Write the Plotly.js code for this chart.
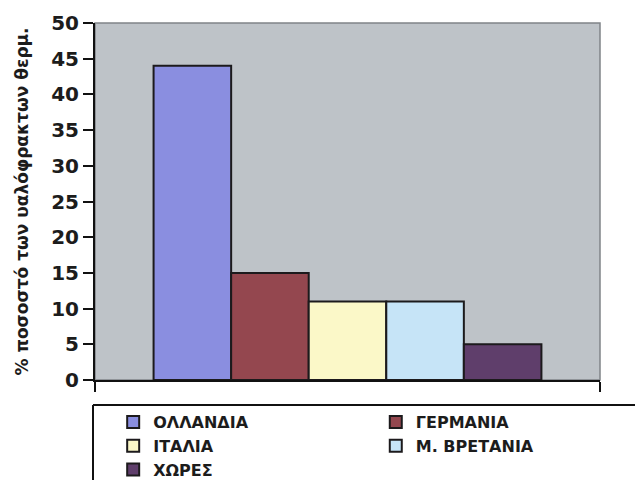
<!DOCTYPE html>
<html>
<head>
<meta charset="utf-8">
<script src="https://cdn.plot.ly/plotly-3.0.1.min.js"></script>
<style>html,body{margin:0;padding:0;background:#fff;}#chart{width:635px;height:480px;}</style>
</head>
<body>
<div id="chart"></div>
<script>
// ---- data ----
var category = ['ποσοστό'];
var seriesNames = ['ΟΛΛΑΝΔΙΑ', 'ΓΕΡΜΑΝΙΑ', 'ΙΤΑΛΙΑ', 'Μ. ΒΡΕΤΑΝΙΑ', 'ΧΩΡΕΣ'];
var seriesValues = [44, 15, 11, 11, 5];
var yTickValues = [0, 5, 10, 15, 20, 25, 30, 35, 40, 45, 50];
var yTitle = '% ποσοστό των υαλόφρακτων θερμ.';

// ---- styles ----
var colors = ['#8a8ee0', '#94474f', '#fbf8c8', '#c6e4f7', '#5f3e6b'];
var boldFont = 'DejaVu Sans, Arial, sans-serif';

var traces = seriesNames.map(function (name, i) {
  return {
    type: 'bar',
    name: name,
    x: category,
    y: [seriesValues[i]],
    legend: (i % 2 === 0) ? 'legend' : 'legend2',
    marker: { color: colors[i], line: { color: '#1c1a1c', width: 2 } },
    hoverinfo: 'name+y'
  };
});

var legendStyle = {
  orientation: 'v',
  yanchor: 'top',
  xanchor: 'left',
  y: -0.07,
  bgcolor: 'rgba(0,0,0,0)',
  borderwidth: 0,
  font: { family: boldFont, size: 16, color: '#1c1c1c', weight: 'bold' },
  traceorder: 'normal'
};

var layout = {
  width: 635,
  height: 480,
  margin: { l: 95, r: 35, t: 23, b: 100, autoexpand: false },
  paper_bgcolor: '#ffffff',
  plot_bgcolor: '#bec3c8',
  barmode: 'group',
  bargap: 0.232,
  bargroupgap: 0,
  showlegend: true,
  legend: Object.assign({}, legendStyle, { x: 0.036 }),
  legend2: Object.assign({}, legendStyle, { x: 0.556 }),
  xaxis: {
    type: 'category',
    showticklabels: false,
    showgrid: false,
    zeroline: false,
    showline: true,
    linecolor: '#111',
    linewidth: 2,
    ticks: 'outside',
    tickson: 'boundaries',
    ticklen: 10,
    tickwidth: 2,
    tickcolor: '#111',
    fixedrange: true
  },
  yaxis: {
    range: [0, 50],
    tickvals: yTickValues,
    showgrid: false,
    zeroline: false,
    showline: true,
    linecolor: '#111',
    linewidth: 2,
    ticks: 'outside',
    ticklen: 10,
    tickwidth: 2,
    tickcolor: '#111',
    tickfont: { family: boldFont, size: 20, color: '#1c1c1c', weight: 'bold' },
    title: {
      text: yTitle,
      font: { family: boldFont, size: 17, color: '#1c1c1c', weight: 'bold' },
      standoff: 18
    },
    fixedrange: true
  },
  shapes: [
    { type: 'rect', xref: 'paper', yref: 'paper', x0: 0, x1: 1, y0: 0, y1: 1,
      line: { color: '#808488', width: 1.5 }, layer: 'below' },
    { type: 'line', xref: 'paper', yref: 'paper', x0: -0.004, x1: 1.1, y0: -0.07, y1: -0.07,
      line: { color: '#111', width: 2 } },
    { type: 'line', xref: 'paper', yref: 'paper', x0: -0.004, x1: -0.004, y0: -0.07, y1: -0.3,
      line: { color: '#111', width: 2 } }
  ]
};

Plotly.newPlot('chart', traces, layout, { displayModeBar: false, staticPlot: true });
</script>
</body>
</html>
